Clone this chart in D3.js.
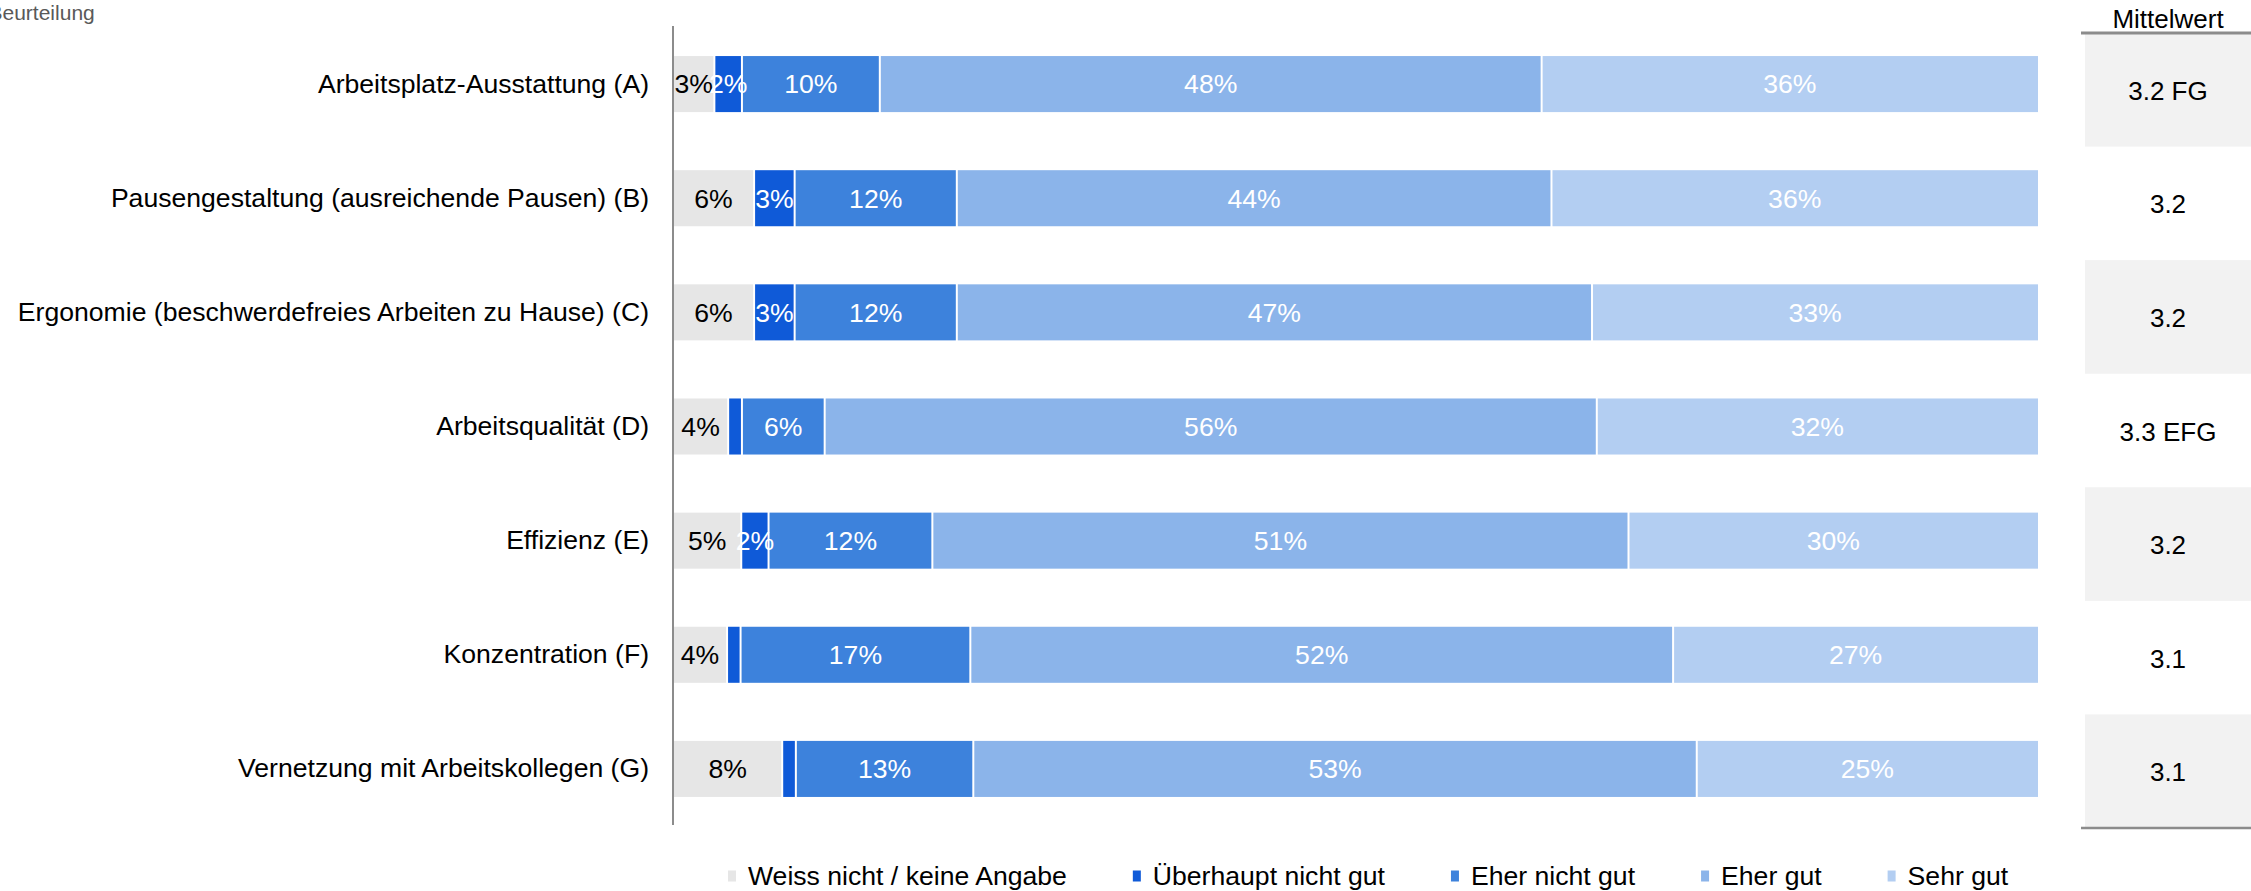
<!DOCTYPE html>
<html>
<head>
<meta charset="utf-8">
<script src="https://cdn.jsdelivr.net/npm/d3@7"></script>
<style>
  html, body { margin: 0; padding: 0; background: #fff; overflow: hidden; }
  svg { display: block; font-family: "Liberation Sans", Arial, sans-serif; }
</style>
</head>
<body>
<svg id="chart" width="2251" height="891"></svg>
<script>
// Survey items (rows, top to bottom)
const categories = [
  "Arbeitsplatz-Ausstattung (A)",
  "Pausengestaltung (ausreichende Pausen) (B)",
  "Ergonomie (beschwerdefreies Arbeiten zu Hause) (C)",
  "Arbeitsqualität (D)",
  "Effizienz (E)",
  "Konzentration (F)",
  "Vernetzung mit Arbeitskollegen (G)"
];

// Answer categories (stack order, left to right)
const seriesNames = [
  "Weiss nicht / keine Angabe",
  "Überhaupt nicht gut",
  "Eher nicht gut",
  "Eher gut",
  "Sehr gut"
];

// Shares in percent per item
const weissNicht         = [3, 6, 6, 4, 5, 4, 8];
const ueberhauptNichtGut = [2, 3, 3, 1, 2, 1, 1];
const eherNichtGut       = [10, 12, 12, 6, 12, 17, 13];
const eherGut            = [48, 44, 47, 56, 51, 52, 53];
const sehrGut            = [36, 36, 33, 32, 30, 27, 25];

// Mean score and significance letters per item
const meanValues = [3.2, 3.2, 3.2, 3.3, 3.2, 3.1, 3.1];
const meanSig    = ["FG", "", "", "EFG", "", "", ""];

const seriesColors = ["#e6e6e6", "#0f5ad8", "#3d82dc", "#8bb4ea", "#b3cef2"];
const labelColors  = ["#000000", "#ffffff", "#ffffff", "#ffffff", "#ffffff"];

const seriesData = [weissNicht, ueberhauptNichtGut, eherNichtGut, eherGut, sehrGut];
const rows = categories.map((c, i) => {
  const r = { category: c };
  seriesNames.forEach((s, k) => { r[s] = seriesData[k][i]; });
  return r;
});

const svg = d3.select("#chart");
const FONT = 26.6;
const MEAN_FONT = 26;

const x = d3.scaleLinear().domain([0, 1]).range([673, 2038]);
const y = d3.scaleBand().domain(categories).range([27, 826])
  .paddingInner(0.509).paddingOuter(0.2545);
const yRow = d3.scaleBand().domain(categories).range([33, 828]);

const stack = d3.stack().keys(seriesNames).offset(d3.stackOffsetExpand);
const layers = stack(rows);

// Header text in the top left corner
svg.append("text")
  .attr("x", -11.5).attr("y", 20)
  .attr("font-size", 21).attr("fill", "#595959")
  .text("Beurteilung");

// Stacked bars
const layerG = svg.append("g").selectAll("g")
  .data(layers).join("g")
  .attr("fill", (d, i) => seriesColors[i]);

layerG.selectAll("rect")
  .data((d, i) => d.map(p => ({ p, i })))
  .join("rect")
  .attr("x", d => x(d.p[0]) + (d.i > 0 ? 1 : 0))
  .attr("y", d => y(d.p.data.category))
  .attr("width", d => {
    const w = x(d.p[1]) - x(d.p[0]) - (d.i > 0 ? 1 : 0) - (d.i < seriesNames.length - 1 ? 1 : 0);
    return Math.max(0, w);
  })
  .attr("height", y.bandwidth());

// Value labels inside the segments
const labelG = svg.append("g").attr("font-size", FONT).attr("text-anchor", "middle");
layers.forEach((layer, i) => {
  labelG.selectAll(null)
    .data(layer.filter(p => p.data[seriesNames[i]] >= 2))
    .join("text")
    .attr("x", p => (x(p[0]) + x(p[1])) / 2)
    .attr("y", p => y(p.data.category) + y.bandwidth() / 2)
    .attr("dy", "0.35em")
    .attr("fill", labelColors[i])
    .text(p => p.data[seriesNames[i]] + "%");
});

// Category axis on the left
const axis = d3.axisLeft(y).tickSize(0).tickPadding(24);
const axisG = svg.append("g").attr("transform", `translate(${x(0)},0)`).call(axis);
axisG.select(".domain").attr("stroke", "#8c8c8c").attr("stroke-width", 2)
  .attr("d", `M0,26V825`);
axisG.selectAll(".tick text")
  .attr("font-size", FONT)
  .attr("fill", "#000")
  .attr("font-family", "'Liberation Sans', Arial, sans-serif");

// Mean value column
const colX0 = 2085, colX1 = 2251, colMid = (colX0 + colX1) / 2;
const meanG = svg.append("g");
meanG.selectAll("rect")
  .data(categories.filter((c, i) => i % 2 === 0))
  .join("rect")
  .attr("x", colX0).attr("width", colX1 - colX0)
  .attr("y", c => yRow(c)).attr("height", yRow.bandwidth())
  .attr("fill", "#f2f2f2");

meanG.selectAll("text")
  .data(categories)
  .join("text")
  .attr("x", colMid)
  .attr("y", c => yRow(c) + yRow.bandwidth() / 2 + 1)
  .attr("dy", "0.35em")
  .attr("text-anchor", "middle")
  .attr("font-size", MEAN_FONT)
  .attr("fill", "#000")
  .text((c, i) => d3.format(".1f")(meanValues[i]) + (meanSig[i] ? " " + meanSig[i] : ""));

svg.append("text")
  .attr("x", colMid).attr("y", 28)
  .attr("text-anchor", "middle")
  .attr("font-size", MEAN_FONT)
  .attr("fill", "#000")
  .text("Mittelwert");

svg.append("line")
  .attr("x1", 2081).attr("x2", colX1).attr("y1", 33).attr("y2", 33)
  .attr("stroke", "#8c8c8c").attr("stroke-width", 3);
svg.append("line")
  .attr("x1", 2081).attr("x2", colX1).attr("y1", 828).attr("y2", 828)
  .attr("stroke", "#8c8c8c").attr("stroke-width", 2.5);

// Legend along the bottom
const legend = svg.append("g").attr("transform", "translate(728,876)");
let lx = 0;
seriesNames.forEach((name, i) => {
  const item = legend.append("g").attr("transform", `translate(${lx},0)`);
  item.append("rect")
    .attr("x", 0).attr("y", -5.5).attr("width", 8).attr("height", 11)
    .attr("fill", seriesColors[i]);
  const t = item.append("text")
    .attr("x", 20).attr("y", 0).attr("dy", "0.35em")
    .attr("font-size", FONT).attr("fill", "#000")
    .text(name);
  lx += 20 + t.node().getComputedTextLength() + 66;
});
</script>
</body>
</html>
